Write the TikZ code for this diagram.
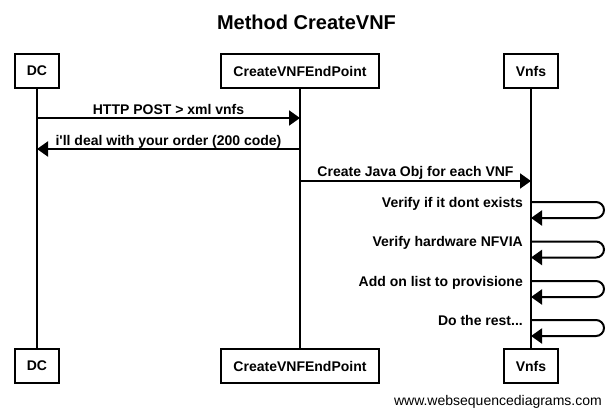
\documentclass[tikz,border=0pt]{standalone}
\usepackage{fontspec}
\setmainfont{Liberation Sans}[Ligatures=TeXOff]
\usetikzlibrary{arrows.meta}
\tikzset{
	actor/.style={draw, line width=2pt, fill=white, minimum height=34pt, inner xsep=12pt, font=\fontsize{14}{16}\selectfont\bfseries},
	msg/.style={line width=2pt, -{Triangle[length=11pt,width=15pt]}},
	lbl/.style={inner sep=0pt, font=\fontsize{14}{16}\selectfont\bfseries}
}
\begin{document}
\begin{tikzpicture}[x=1pt, y=-1pt]
		\useasboundingbox (0,0) rectangle (612,417);
		%title
		\node (title) at (306.5,30) [anchor=base, inner sep=0pt, font=\fontsize{20}{24}\selectfont\bfseries]{Method CreateVNF};
		
		%participants
		\node (dcTop) at (37,71) [actor]{DC};
		\node (epTop) at (300,71) [actor]{CreateVNFEndPoint};
		\node (vnTop) at (531,71) [actor]{Vnfs};
		\node (dcBot) at (37,366) [actor]{DC};
		\node (epBot) at (300,366) [actor]{CreateVNFEndPoint};
		\node (vnBot) at (531,366) [actor]{Vnfs};
		
		%lifelines
		\draw[line width=2pt] (dcTop.south) -- (dcBot.north);
		\draw[line width=2pt] (epTop.south) -- (epBot.north);
		\draw[line width=2pt] (vnTop.south) -- (vnBot.north);
		
		%messages
		\draw[msg] (dcTop |- 0,118) -- (epTop |- 0,118);
		\node (post) at (168.5,114.5) [lbl, anchor=base]{HTTP POST > xml vnfs};
		\draw[msg] (epTop |- 0,149) -- (dcTop |- 0,149);
		\node (reply) at (168.5,145) [lbl, anchor=base]{i'll deal with your order (200 code)};
		\draw[msg] (epTop |- 0,181) -- (vnTop |- 0,181);
		\node (java) at (415.5,176) [lbl, anchor=base]{Create Java Obj for each VNF};
		
		%self messages
		\foreach \y/\txt [count=\i] in {202/{Verify if it dont exists}, 241.5/{Verify hardware NFVIA}, 281/{Add on list to provisione}, 320/{Do the rest...}}{
			\draw[msg, rounded corners=8pt] (vnTop |- 0,\y) -- (604,\y) -- (604,\y+16) -- (vnTop |- 0,\y+16);
			\node (self\i) at (523,\y+5) [lbl, anchor=base east]{\txt};
		}
		
		\node (site) at (602,405) [anchor=base east, inner sep=0pt, font=\fontsize{14}{16}\selectfont]{www.websequencediagrams.com};
		\end{tikzpicture}
\end{document}
